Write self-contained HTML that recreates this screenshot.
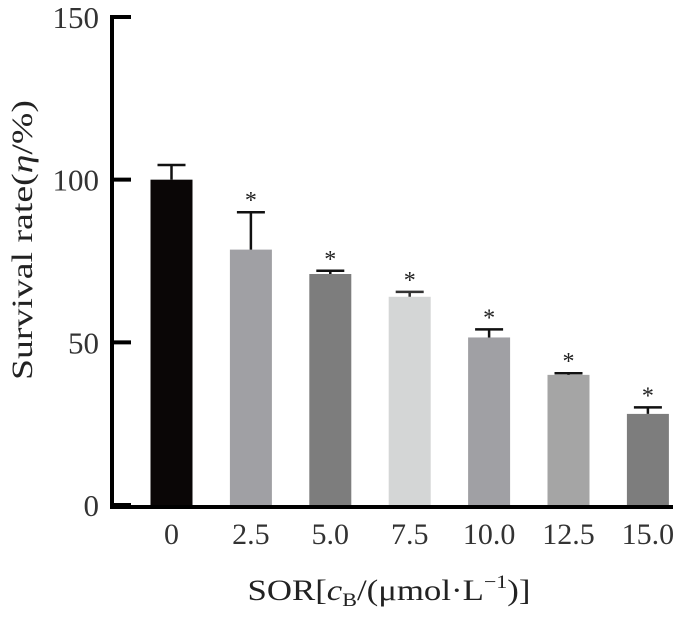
<!DOCTYPE html>
<html><head><meta charset="utf-8"><style>
html,body{margin:0;padding:0;background:#fff;}
svg{display:block;font-family:"Liberation Serif","DejaVu Serif",serif;}
</style></head><body>
<svg id="chart" width="673" height="618" viewBox="0 0 673 618">
<g id="bars"></g>
<g id="axes"></g>
<text x="389" y="600" text-anchor="middle" font-size="30" textLength="283" lengthAdjust="spacingAndGlyphs" fill="#222">SOR[<tspan font-style="italic">c</tspan><tspan font-size="19" dy="6">B</tspan><tspan dy="-6">/(μmol·L</tspan><tspan font-size="19" dy="-12">−1</tspan><tspan dy="12">)]</tspan></text>
<text transform="translate(32,240) rotate(-90)" text-anchor="middle" font-size="30" textLength="280" lengthAdjust="spacingAndGlyphs" fill="#222">Survival rate(<tspan font-style="italic">η</tspan>/%)</text>
</svg>
<script>
const categories = ["0","2.5","5.0","7.5","10.0","12.5","15.0"];
const values = [100, 78.5, 71, 64, 51.5, 40, 28];
const errors = [4.5, 11.5, 1, 1.5, 2.5, 0.5, 2];
const significant = [false, true, true, true, true, true, true];
const colors = ["#0a0606","#a0a0a4","#7d7d7d","#d4d6d6","#a0a0a4","#a5a5a5","#7d7d7d"];
const yTicks = [0, 50, 100, 150];

const NS = "http://www.w3.org/2000/svg";
const y0 = 505, yTop = 17, yMax = 150;
const ys = v => y0 - v / yMax * (y0 - yTop);
const xs = i => 171.5 + i * 79.4;
const bw = 42;
const bars = document.getElementById('bars');
const axes = document.getElementById('axes');
function mk(tag, attrs, parent){const e=document.createElementNS(NS,tag);for(const k in attrs)e.setAttribute(k,attrs[k]);parent.appendChild(e);return e;}

categories.forEach((c,i)=>{
  const cx = xs(i), top = ys(values[i]);
  const r = mk('rect',{x:cx-bw/2,y:top,width:bw,height:y0-top,fill:colors[i]},bars);
  
  
  const et = ys(values[i]+errors[i]);
  const l = mk('path',{d:`M${cx},${top} V${et} M${cx-14},${et} H${cx+14}`,stroke:colors[i]==="#d4d6d6"?"#333":"#111","stroke-width":2.5,fill:"none"},bars);
  
  
  if(significant[i]){
    const s = mk('text',{x:cx,y:et-4,"text-anchor":"middle","font-size":24,fill:"#222"},bars);
    s.textContent='*';
    
    
  }
  const t = mk('text',{x:cx,y:544,"text-anchor":"middle","font-size":30,fill:"#333"},axes);
  t.textContent=c;
  
  
});
const ya = mk('path',{d:`M112,${yTop-2} V${y0+2} H673`,stroke:"#000","stroke-width":4,fill:"none"},axes);


yTicks.forEach(v=>{
  const y=ys(v);
  const tk = mk('line',{x1:112,x2:131,y1:y,y2:y,stroke:"#000","stroke-width":4},axes);
  
  
  const t = mk('text',{x:99,y:y+11,"text-anchor":"end","font-size":31,fill:"#333"},axes);
  t.textContent=String(v);
  
  
});
</script>
</body></html>
